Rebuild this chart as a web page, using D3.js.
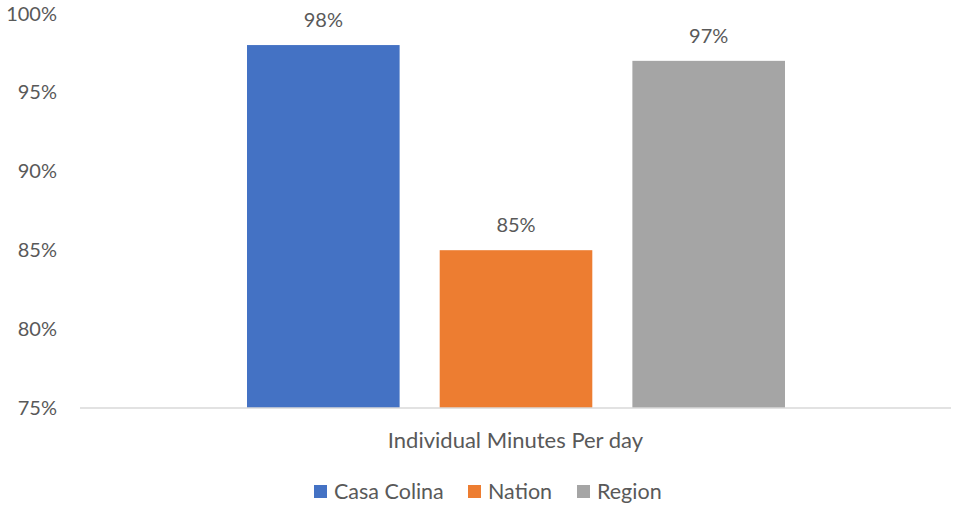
<!DOCTYPE html>
<html><head><meta charset="utf-8">
<script src="https://cdn.jsdelivr.net/npm/d3@7/dist/d3.min.js"></script>
<style>body{margin:0;background:#fff}svg{display:block}text{font-family:Lato,"Open Sans",sans-serif;fill:#595959}</style>
</head><body>
<svg id="c" width="953" height="505"></svg>
<script>
const categories = ["Individual Minutes Per day"];
const seriesNames = ["Casa Colina", "Nation", "Region"];
const seriesValues = [98, 85, 97];
const colors = ["#4472C4", "#ED7D31", "#A5A5A5"];
const yTicks = [75, 80, 85, 90, 95, 100];

(function () {
const svg = d3.select("#c");
const mLeft = 80, mRight = 951, mTop = 13.5, mBottom = 408;
const y = d3.scaleLinear().domain([75, 100]).range([mBottom, mTop]);
const x0 = d3.scaleBand().domain(categories).range([mLeft, mRight]);
const x1 = d3.scaleBand().domain(seriesNames).range([247, 785]).paddingInner(0.208).paddingOuter(0);

svg.append("g").selectAll("text").data(yTicks).join("text")
  .attr("x", 57).attr("y", d => y(d)).attr("dy", "0.35em")
  .attr("text-anchor", "end").attr("font-size", 20)
  .text(d => d + "%");

const g = svg.append("g");
g.selectAll("rect").data(seriesValues).join("rect")
  .attr("x", (d, i) => x1(seriesNames[i]))
  .attr("width", x1.bandwidth())
  .attr("y", d => y(d))
  .attr("height", d => y(75) - y(d))
  .attr("fill", (d, i) => colors[i]);

g.selectAll("text").data(seriesValues).join("text")
  .attr("x", (d, i) => x1(seriesNames[i]) + x1.bandwidth() / 2)
  .attr("y", d => y(d) - 18)
  .attr("text-anchor", "middle").attr("font-size", 20)
  .text(d => d + "%");

svg.append("line").attr("x1", mLeft).attr("x2", mRight)
  .attr("y1", y(75)).attr("y2", y(75))
  .attr("stroke", "#D9D9D9").attr("stroke-width", 1.5);

svg.append("text").attr("x", x0(categories[0]) + x0.bandwidth() / 2).attr("y", 440)
  .attr("dy", "0.35em").attr("text-anchor", "middle").attr("font-size", 22)
  .text(categories[0]);

const legendX = [314, 468, 577];
const lg = svg.append("g");
seriesNames.forEach((n, i) => {
  lg.append("rect").attr("x", legendX[i]).attr("y", 485).attr("width", 13).attr("height", 13).attr("fill", colors[i]);
  lg.append("text").attr("x", legendX[i] + 20).attr("y", 491.5).attr("dy", "0.35em")
    .attr("font-size", 21.5).text(n);
});
})();
</script>
</body></html>
